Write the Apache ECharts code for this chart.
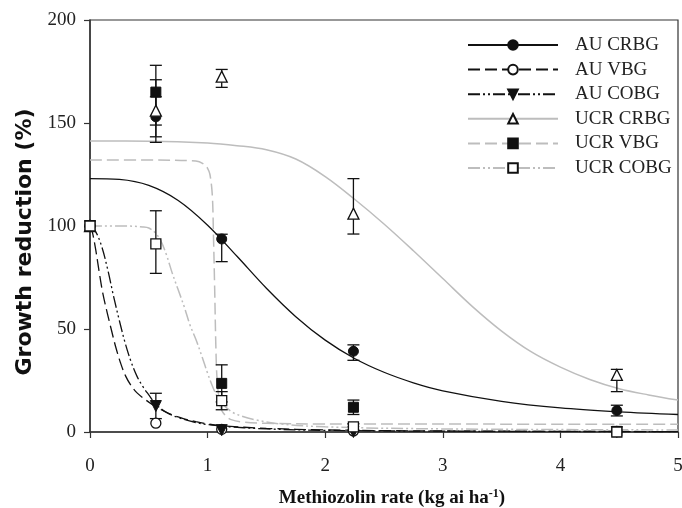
<!DOCTYPE html>
<html>
<head>
<meta charset="utf-8">
<script src="https://cdn.jsdelivr.net/npm/echarts@6/dist/echarts.min.js"></script>
<style>html,body{margin:0;padding:0;background:#fff;}#c{width:682px;height:508px;}</style>
</head>
<body>
<div id="c"></div>
<script>
// ---- Data ----
const seriesNames = ['AU CRBG', 'AU VBG', 'AU COBG', 'UCR CRBG', 'UCR VBG', 'UCR COBG'];
const rates = [0, 0.56, 1.12, 2.24, 4.48];
const xTicks = [0, 1, 2, 3, 4, 5];
const yTicks = [0, 50, 100, 150, 200];

// observed means and error-bar limits
const auCrbgMean = [100, 153, 93.7, 39.2, 10.4];
const auCrbgLow  = [100, 143.3, 82.7, 34.8, 7.8];
const auCrbgHigh = [100, 162.7, 96, 42.3, 13];

const auVbgMean = [100, 4.3, 1.3, 0.5, 0.3];

const auCobgMean = [100, 12.6, 0.9, 0, 0];
const auCobgLow  = [100, 6.5, 0.9, 0, 0];
const auCobgHigh = [100, 18.8, 0.9, 0, 0];

const ucrCrbgMean = [100, 156, 172.5, 106, 27.7];
const ucrCrbgLow  = [100, 140.6, 167.3, 96.1, 19.6];
const ucrCrbgHigh = [100, 171, 176, 123, 30.4];

const ucrVbgMean = [100, 165, 23.6, 12, 0.3];
const ucrVbgLow  = [100, 149, 14.6, 8.5, 0.3];
const ucrVbgHigh = [100, 178, 32.6, 15.5, 0.3];

const ucrCobgMean = [100, 91.3, 15.2, 2.5, 0];
const ucrCobgLow  = [100, 77, 10.8, 1, 0];
const ucrCobgHigh = [100, 107.4, 19.6, 4, 0];

// fitted curves
const auCrbgCurveX = [0, 0.25, 0.5, 0.75, 1.0, 1.25, 1.5, 1.75, 2.0, 2.25, 2.5, 2.75, 3.0, 3.5, 4.0, 4.5, 5.0];
const auCrbgCurveY = [123, 122.6, 119.7, 112.4, 100.4, 85.3, 69.8, 56.0, 44.6, 35.7, 29.0, 23.9, 20.0, 14.9, 11.7, 9.8, 8.5];

const auVbgCurveX = [0, 0.02, 0.05, 0.08, 0.11, 0.15, 0.18, 0.22, 0.26, 0.3, 0.35, 0.4, 0.5, 0.6, 0.7, 0.8, 0.9, 1.0, 1.12, 1.5, 2, 3, 5];
const auVbgCurveY = [100, 97, 88, 77, 67, 57, 50, 41, 33.5, 27.5, 22.5, 19, 14.5, 11, 8.3, 6.4, 5, 3.9, 3, 1.8, 1.0, 0.5, 0.2];

const auCobgCurveX = [0, 0.05, 0.1, 0.15, 0.2, 0.25, 0.3, 0.35, 0.4, 0.45, 0.5, 0.56, 0.65, 0.75, 0.9, 1.0, 1.12, 1.5, 2, 3, 5];
const auCobgCurveY = [100, 97, 90, 79, 66, 54, 43, 34, 27, 22, 18, 13.5, 9.5, 7, 4.6, 3.6, 2.8, 1.5, 0.8, 0.4, 0.2];

const ucrCrbgCurveX = [0, 0.5, 1.0, 1.25, 1.5, 1.75, 2.0, 2.25, 2.5, 2.75, 3.0, 3.25, 3.5, 3.75, 4.0, 4.25, 4.5, 4.75, 5.0];
const ucrCrbgCurveY = [141.3, 141.2, 140.3, 139, 137, 132.5, 124, 113, 101, 88, 74.5, 61, 49, 39, 31.5, 25.5, 21, 18, 15.5];

const ucrVbgCurveX = [0, 0.5, 0.9, 0.97, 1.0, 1.02, 1.04, 1.05, 1.06, 1.07, 1.08, 1.1, 1.12, 1.16, 1.2, 1.3, 1.5, 2, 5];
const ucrVbgCurveY = [132, 132, 131.6, 130, 128, 125, 115, 95, 70, 42, 26, 15, 10.5, 7.5, 6, 4.8, 4.2, 3.9, 3.8];

const ucrCobgCurveX = [0, 0.3, 0.45, 0.5, 0.55, 0.6, 0.65, 0.7, 0.75, 0.8, 0.85, 0.9, 0.95, 1.0, 1.05, 1.1, 1.2, 1.3, 1.4, 1.6, 2.0, 3.0, 5.0];
const ucrCobgCurveY = [100, 100, 99.5, 99, 97, 93, 86, 77, 69, 61, 52, 45, 37, 28.5, 21, 15.5, 10, 7.5, 6, 4, 2.5, 1.5, 1];

// ---- Styling ----
const BLACK = '#111';
const GRAY = '#bdbdbd';
const SERIF = '"Liberation Serif", "Times New Roman", serif';
const dashA = [12, 5];
const dashDotDot = [12, 3, 2, 3, 2, 3];

const specs = [
  {name: seriesNames[0], cx: auCrbgCurveX, cy: auCrbgCurveY, mean: auCrbgMean, lo: auCrbgLow, hi: auCrbgHigh,
   lineColor: BLACK, lineType: 'solid', lineWidth: 1.3, symbol: 'circle', rot: 0, filled: true},
  {name: seriesNames[1], cx: auVbgCurveX, cy: auVbgCurveY, mean: auVbgMean, lo: null, hi: null,
   lineColor: BLACK, lineType: dashA, lineWidth: 1.3, symbol: 'circle', rot: 0, filled: false},
  {name: seriesNames[2], cx: auCobgCurveX, cy: auCobgCurveY, mean: auCobgMean, lo: auCobgLow, hi: auCobgHigh,
   lineColor: BLACK, lineType: dashDotDot, lineWidth: 1.3, symbol: 'triangle', rot: 180, filled: true},
  {name: seriesNames[3], cx: ucrCrbgCurveX, cy: ucrCrbgCurveY, mean: ucrCrbgMean, lo: ucrCrbgLow, hi: ucrCrbgHigh,
   lineColor: GRAY, lineType: 'solid', lineWidth: 1.5, symbol: 'triangle', rot: 0, filled: false},
  {name: seriesNames[4], cx: ucrVbgCurveX, cy: ucrVbgCurveY, mean: ucrVbgMean, lo: ucrVbgLow, hi: ucrVbgHigh,
   lineColor: GRAY, lineType: dashA, lineWidth: 1.5, symbol: 'rect', rot: 0, filled: true},
  {name: seriesNames[5], cx: ucrCobgCurveX, cy: ucrCobgCurveY, mean: ucrCobgMean, lo: ucrCobgLow, hi: ucrCobgHigh,
   lineColor: GRAY, lineType: dashDotDot, lineWidth: 1.5, symbol: 'rect', rot: 0, filled: false}
];

function itemStyleOf(s) {
  return s.filled ? {color: BLACK, borderColor: BLACK, borderWidth: 1, opacity: 1}
                  : {color: '#fff', borderColor: BLACK, borderWidth: 1.3, opacity: 1};
}

const series = [];
// curves (also carry legend icon style)
specs.forEach(s => {
  series.push({
    name: s.name, type: 'line', z: 2,
    data: s.cx.map((x, i) => [x, s.cy[i]]),
    showSymbol: false, symbol: s.symbol, symbolRotate: s.rot, symbolSize: 10,
    smooth: 0.35,
    lineStyle: {color: s.lineColor, width: s.lineWidth, type: s.lineType},
    itemStyle: itemStyleOf(s),
    silent: true, animation: false
  });
});
// error bars
specs.forEach(s => {
  if (!s.lo) return;
  series.push({
    name: s.name, type: 'custom', z: 3, silent: true, animation: false,
    data: rates.map((x, i) => [x, s.lo[i], s.hi[i]]),
    renderItem: function (params, api) {
      const x = api.value(0), lo = api.value(1), hi = api.value(2);
      if (Math.abs(hi - lo) < 0.5) return null;
      const a = api.coord([x, lo]), b = api.coord([x, hi]);
      const w = 6;
      const st = {stroke: '#111', lineWidth: 1.3, fill: null};
      return {type: 'group', children: [
        {type: 'line', shape: {x1: a[0], y1: a[1], x2: b[0], y2: b[1]}, style: st},
        {type: 'line', shape: {x1: a[0] - w, y1: a[1], x2: a[0] + w, y2: a[1]}, style: st},
        {type: 'line', shape: {x1: b[0] - w, y1: b[1], x2: b[0] + w, y2: b[1]}, style: st}
      ]};
    }
  });
});
// observed points
specs.forEach(s => {
  series.push({
    name: s.name, type: 'scatter', z: 4, silent: true, animation: false,
    data: rates.map((x, i) => [x, s.mean[i]]),
    symbol: s.symbol, symbolRotate: s.rot, symbolSize: s.symbol === 'triangle' ? 11 : 10,
    itemStyle: itemStyleOf(s)
  });
});

const chart = echarts.init(document.getElementById('c'), null, {renderer: 'canvas'});
chart.setOption({
  animation: false,
  backgroundColor: '#fff',
  grid: {left: 90, right: 4, top: 20, bottom: 76, show: true, borderColor: '#333', borderWidth: 1.2,
         backgroundColor: 'transparent', containLabel: false, outerBoundsMode: 'none'},
  legend: {
    data: seriesNames, orient: 'vertical', left: 462, top: 30,
    itemWidth: 90, itemHeight: 12, itemGap: 4.6,
    textStyle: {fontFamily: SERIF, fontSize: 19, color: '#222', lineHeight: 20, padding: [0, 0, 0, 12]},
    selectedMode: false
  },
  xAxis: {
    type: 'value', min: xTicks[0], max: xTicks[xTicks.length - 1], interval: 1,
    name: 'Methiozolin rate (kg ai ha{sup|-1})',
    nameLocation: 'middle', nameGap: 56,
    nameTextStyle: {fontFamily: SERIF, fontSize: 19, fontWeight: 'bold', color: '#111', padding: [0, 0, 0, 16],
      rich: {sup: {fontFamily: SERIF, fontSize: 12, fontWeight: 'bold', color: '#111', verticalAlign: 'top', padding: [0, 0, 8, 0]}}},
    axisLine: {show: true, onZero: false, lineStyle: {color: '#333', width: 1.5}},
    axisTick: {show: true, length: 6, lineStyle: {color: '#333', width: 1.2}},
    axisLabel: {fontFamily: SERIF, fontSize: 19, color: '#222', margin: 25},
    splitLine: {show: false}
  },
  yAxis: {
    type: 'value', min: yTicks[0], max: yTicks[yTicks.length - 1], interval: 50,
    name: 'Growth reduction (%)',
    nameLocation: 'middle', nameGap: 49,
    nameTextStyle: {fontFamily: '"DejaVu Sans", sans-serif', fontSize: 22, fontWeight: 'bold', color: '#111', padding: [0, 32, 0, 0]},
    axisLine: {show: true, lineStyle: {color: '#333', width: 1.5}},
    axisTick: {show: true, length: 6, lineStyle: {color: '#333', width: 1.2}},
    axisLabel: {fontFamily: SERIF, fontSize: 19, color: '#222', margin: 14},
    splitLine: {show: false}
  },
  series: series
});
</script>
</body>
</html>
